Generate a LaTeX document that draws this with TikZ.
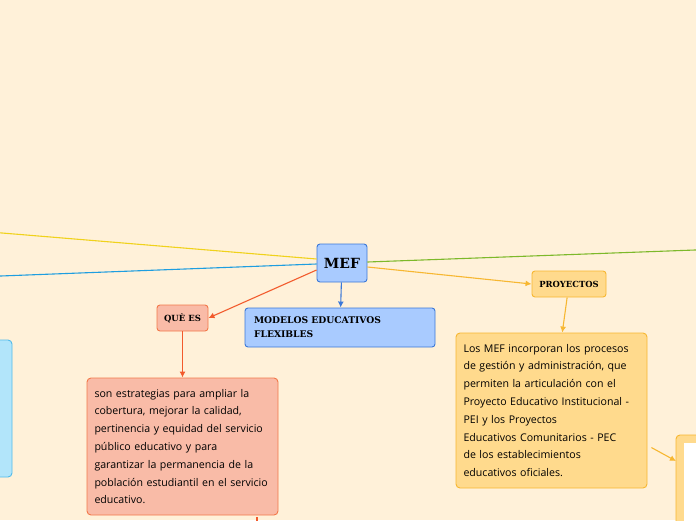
\documentclass[tikz,border=0pt]{standalone}
\usepackage{fontspec}
\setmainfont{Open Sans}
\newfontfamily\headfont{DejaVu Serif}
\usetikzlibrary{arrows.meta, positioning}
\definecolor{paper}{HTML}{FFF1D9}
\definecolor{bluefill}{HTML}{A9CBFF}
\definecolor{blueline}{HTML}{3B78D8}
\definecolor{redfill}{HTML}{F9BBA7}
\definecolor{redline}{HTML}{F3784A}
\definecolor{redarrow}{HTML}{F25A2C}
\definecolor{goldfill}{HTML}{FFDA8D}
\definecolor{goldline}{HTML}{F7B731}
\definecolor{cyanfill}{HTML}{B2E5FA}
\definecolor{cyanline}{HTML}{52BBEA}
\definecolor{yellowline}{HTML}{F0D21B}
\definecolor{skyline}{HTML}{1E9EE0}
\definecolor{greenline}{HTML}{7DB92A}
\tikzset{
  topic/.style={rectangle,draw,rounded corners=3pt,line width=0.9pt,inner sep=2pt,align=center,font=\headfont\bfseries},
  textbox/.style={rectangle,draw,rounded corners=4pt,line width=0.9pt,inner sep=0pt,text width=176pt,align=left,font=\fontsize{10.6}{17.8}\selectfont},
  line/.style={-{Latex[length=6pt,width=6pt]},line width=1.1pt},
  branch/.style={line width=1.1pt}
}

\begin{document}
\begin{tikzpicture}[x=1pt,y=-1pt]
\path[use as bounding box, fill=paper] (0,0) rectangle (696,520);
\clip (0,0) rectangle (696,520);
% central topic
\node[topic, fill=bluefill, draw=blueline, minimum width=50pt, minimum height=38pt, font=\headfont\bfseries\fontsize{14}{14}\selectfont] (mef) at (342,263) {MEF};
\node[topic, fill=bluefill, draw=blueline, minimum width=190pt, minimum height=39pt, text width=172pt, align=left, font=\headfont\bfseries\fontsize{9.2}{14}\selectfont] (modelos) at (340,327.5) {MODELOS EDUCATIVOS\\FLEXIBLES};
% que es
\node[topic, fill=redfill, draw=redline, minimum width=51pt, minimum height=26pt, font=\headfont\bfseries\fontsize{8.5}{9}\selectfont] (quees) at (182.5,318) {QUÈ ES};
\node[textbox, fill=redfill, draw=redline, minimum width=191pt, minimum height=137pt] (quetext) at (182.5,446.5) {son estrategias para ampliar la\\cobertura, mejorar la calidad,\\pertinencia y equidad del servicio\\público educativo y para\\garantizar la permanencia de la\\población estudiantil en el servicio\\educativo.};
% proyectos
\node[topic, fill=goldfill, draw=goldline, minimum width=74pt, minimum height=26pt, font=\headfont\bfseries\fontsize{8.4}{9}\selectfont] (proy) at (569,284) {PROYECTOS};
\node[textbox, fill=goldfill, draw=goldline, minimum width=191pt, minimum height=155pt] (proytext) at (551.5,410.5) {Los MEF incorporan los procesos\\de gestión y administración, que\\permiten la articulación con el\\Proyecto Educativo Institucional -\\PEI y los Proyectos\\Educativos Comunitarios - PEC\\de los establecimientos\\educativos oficiales.};
% boxes cut by the edge
\node[rectangle, draw=goldline, fill=goldfill, rounded corners=4pt, line width=0.9pt, minimum width=90pt, minimum height=170pt] (imgbox) at (721,520) {};
\fill[white] (684,443) rectangle (720,540);
\node[rectangle, draw=cyanline, fill=cyanfill, rounded corners=4pt, line width=0.9pt, minimum width=92pt, minimum height=137pt] (leftbox) at (-34,408.5) {};
\coordinate (yl) at (-10,232);
\coordinate (cl) at (-10,276.4);
\coordinate (gr) at (706,249.6);
\coordinate (down) at (257,527);
\coordinate (imgin) at (676,461);
% connectors
\draw[branch, yellowline] ([yshift=4pt]mef.west) -- (yl);
\draw[branch, skyline] ([yshift=-1pt]mef.west) -- (cl);
\draw[branch, greenline] ([yshift=1pt]mef.east) -- (gr);
\draw[line, redarrow] ([yshift=-7pt]mef.west) -- (quees.east);
\draw[line, blueline] (mef) -- (modelos);
\draw[line, goldline] ([yshift=-4pt]mef.east) -- (proy.west);
\draw[line, redarrow] (quees) -- (quetext);
\draw[line, goldline] (proy) -- (proytext);
\draw[line, goldline] ([shift={(4,115)}]proytext.north east) -- (imgin);
\draw[line, redarrow] ([shift={(74.5,2)}]quetext.south) -- (down);
\end{tikzpicture}
\end{document}
